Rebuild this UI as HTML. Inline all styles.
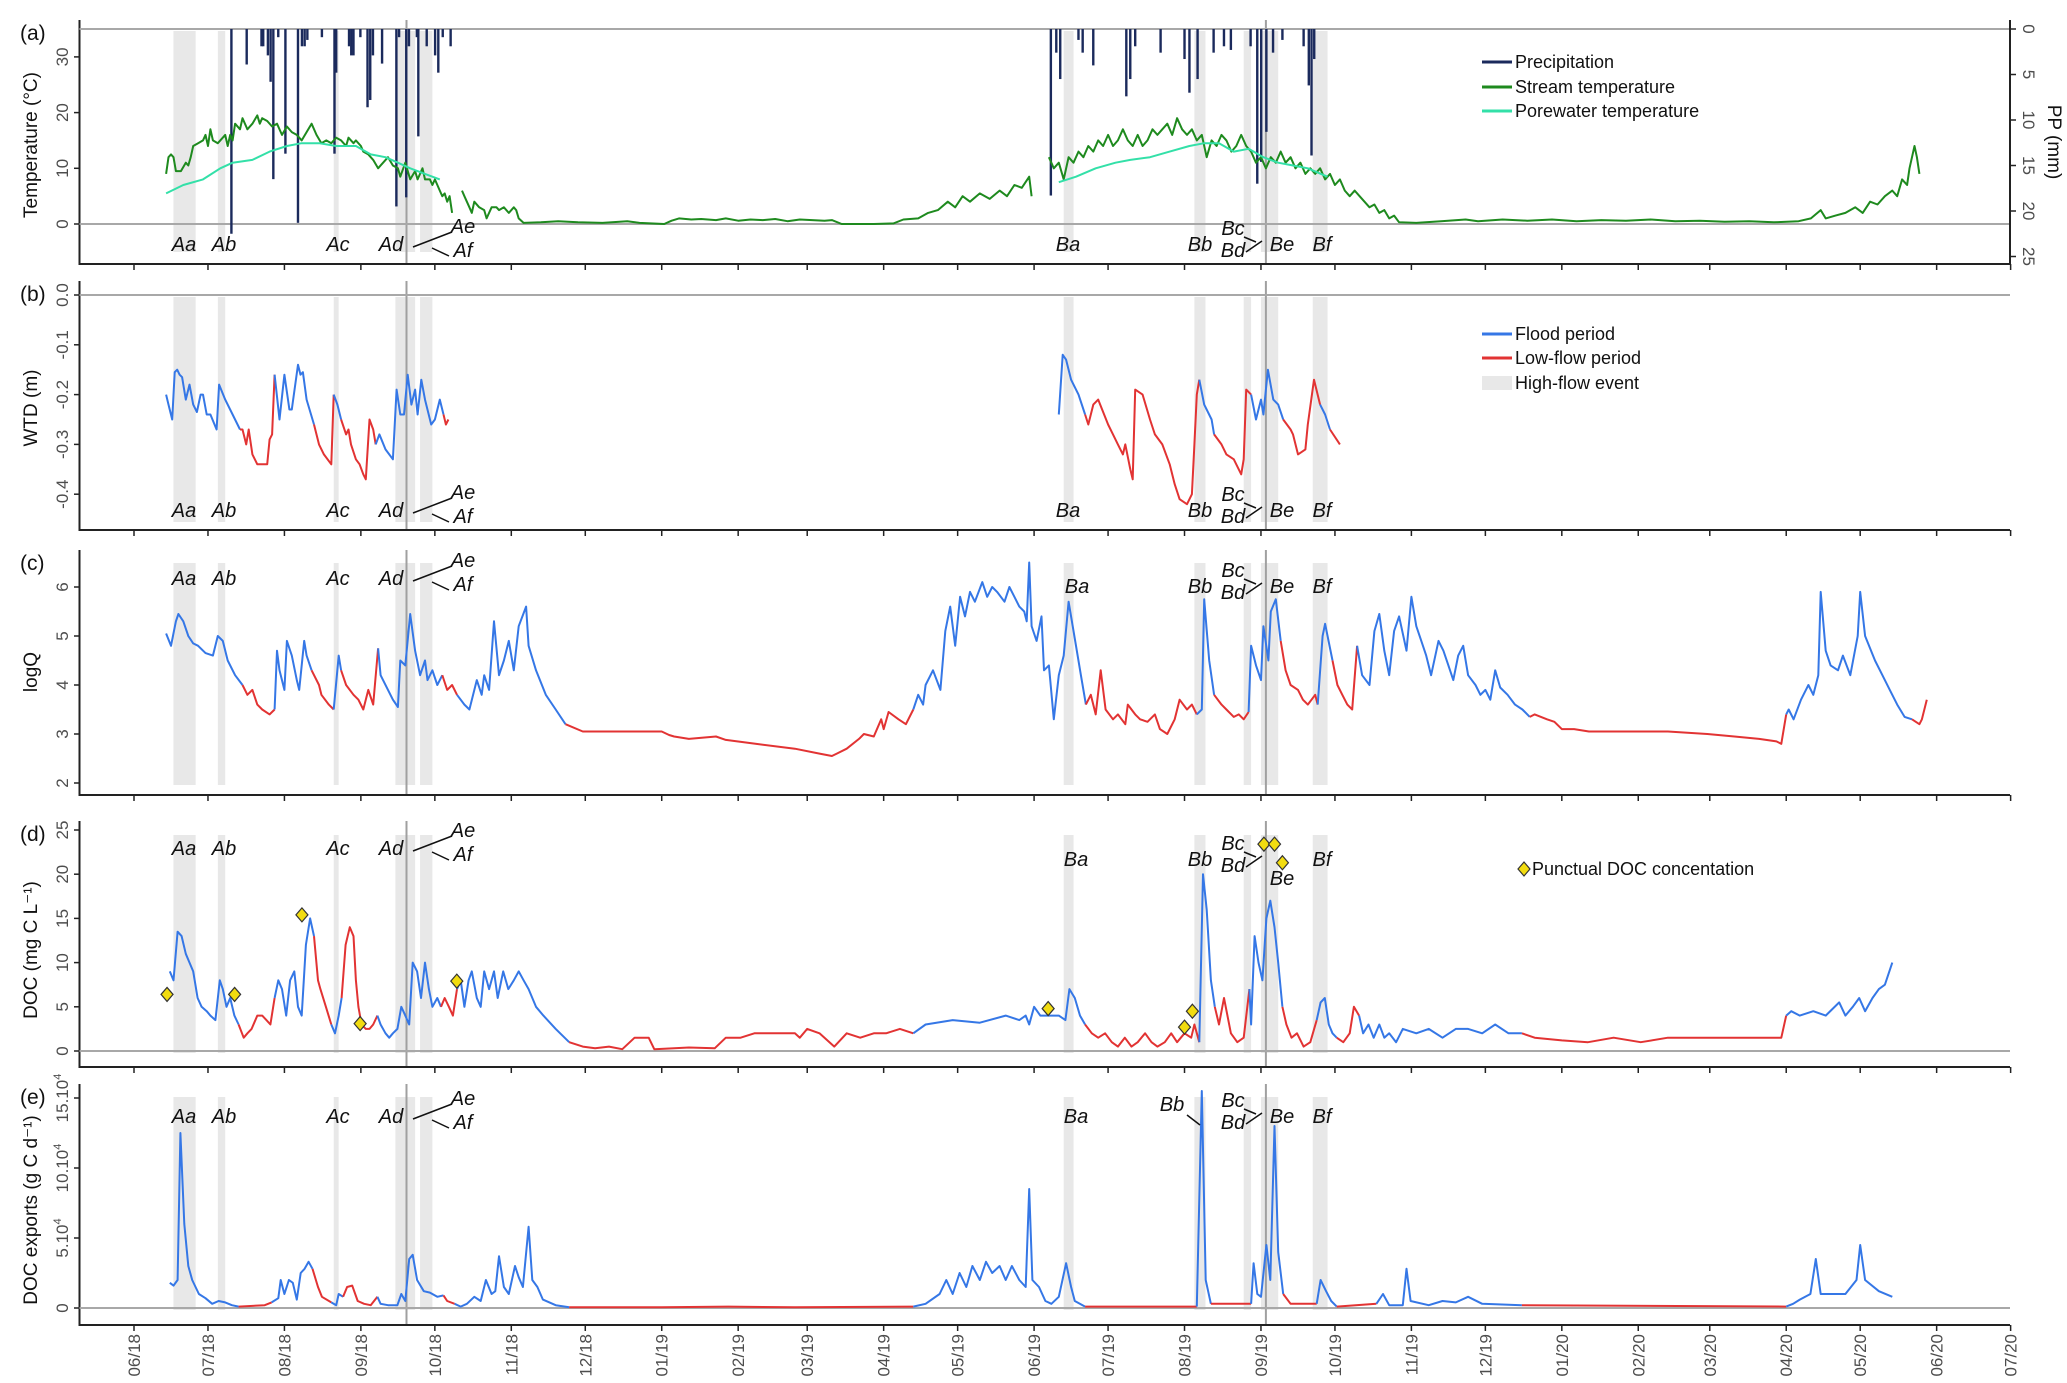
<!DOCTYPE html>
<html><head><meta charset="utf-8"><style>
html,body{margin:0;padding:0;background:#fff}
svg{display:block}
text{font-family:"Liberation Sans",sans-serif}
.ev{font-style:italic;font-size:20px;fill:#111}
.tk{font-size:17px;fill:#4d4d4d}
.tt{font-size:19px;fill:#111}
.pl{font-size:21px;fill:#111}
.lg{font-size:18px;fill:#111}
</style></head><body>
<svg id="chart" width="2067" height="1383" viewBox="0 0 2067 1383" xmlns="http://www.w3.org/2000/svg"></svg>
<script>
const monthLabels=['06/18','07/18','08/18','09/18','10/18','11/18','12/18','01/19','02/19','03/19','04/19','05/19','06/19','07/19','08/19','09/19','10/19','11/19','12/19','01/20','02/20','03/20','04/20','05/20','06/20','07/20'];
const eventBandsA=[[16,25],[34,37],[81,83],[106,114],[116,121]];
const eventBandsB=[[377,381],[430,434.5],[450,453],[457,464],[478,484]];
const markerDays=[110.5,459];
const lowFlow=[[43,57],[73,80.5],[84.5,98],[125,131],[176,316],[386,431.5],[438,452],[466,480],[487,496],[565,670],[721,728]];
const streamTemp=[[13,9],[14,12],[15,12.5],[16,12],[17,9.5],[19,9.5],[21,11],[22,10.5],[23,12],[24,14],[26,14.5],[28,15],[29,16],[30,14],[31,17],[32,15],[34,14.5],[35,15],[37,16],[38,14],[39,16],[40,15],[41,18],[43,17],[44,19],[46,17],[48,18],[50,19.5],[51,18],[52,19],[54,18.5],[56,17.5],[58,18],[60,16],[62,17.5],[64,16.5],[66,16],[68,15],[70,16.5],[72,18],[74,16],[76,14.5],[78,15],[80,14.5],[82,15.5],[84,15],[86,14],[87,15.5],[89,14.5],[90,15],[92,14],[93,13],[95,12.5],[97,11.5],[99,10],[101,11],[103,12],[105,10.5],[107,10],[108,8.5],[110,11],[112,8],[114,9.5],[115,8],[117,10],[118,8],[120,8],[121,7],[122,8],[124,6],[125,5],[126,5.5],[127,4],[128,5],[129,2],[130,null],[133,6],[134,5],[136,3],[137,2],[138,4],[140,3],[142,2.5],[143,1],[145,3],[147,3],[148,2.5],[150,3],[152,2],[154,3],[155,2.5],[156,1],[158,0.2],[165,0.3],[172,0.5],[180,0.3],[190,0.2],[200,0.5],[205,0.2],[215,0],[218,0.6],[221,1],[226,0.8],[230,0.9],[236,0.7],[240,1],[245,0.6],[250,0.8],[255,0.7],[260,0.9],[265,0.5],[270,0.8],[275,0.7],[280,0.6],[283,0.7],[287,0],[300,0],[308,0.1],[312,0.8],[318,1],[322,2],[326,2.5],[330,4],[333,3],[336,5],[339,4],[343,5.5],[347,4.5],[351,6],[354,5],[357,7],[360,6.5],[363,8.5],[364,5],[365,null],[371,12],[373,10],[375,11],[377,8],[379,12],[381,11],[383,13],[385,12],[387,14],[389,13],[391,15],[393,14],[395,16],[397,14],[399,15],[401,17],[403,15],[405,14],[407,16],[409,14],[411,15],[413,17],[415,16],[417,17],[419,18],[421,16],[423,19],[425,17],[427,16],[429,17],[431,15],[433,16],[435,12],[437,15],[439,14],[441,16],[443,15],[445,13],[447,14],[449,16],[451,14],[453,13],[455,11],[457,12],[459,10],[461,12],[463,11],[465,13],[467,11],[469,12],[471,10],[473,11],[475,9],[477,10],[479,9],[481,10],[483,8],[485,9],[487,7],[489,8],[491,6],[493,5],[495,6],[497,5],[499,4],[501,3],[503,3.5],[505,2],[507,2.5],[509,1],[511,1.5],[513,0.3],[520,0.2],[530,0.5],[540,0.8],[545,0.5],[555,0.8],[565,0.6],[575,0.8],[585,0.5],[595,0.7],[605,0.6],[615,0.8],[625,0.5],[635,0.6],[645,0.4],[655,0.5],[665,0.3],[675,0.5],[680,1],[684,2.5],[686,1],[690,1.5],[694,2],[698,3],[701,2],[704,4],[707,3.5],[710,5],[713,6],[715,5],[717,8],[719,7],[720,10],[721,12],[722,14],[723,12],[724,9]];
const poreTemp=[[13,5.5],[20,7],[28,8],[35,10],[40,11],[48,11.5],[55,13],[62,14],[68,14.5],[75,14.5],[82,14],[90,14],[96,12.5],[102,12],[107,11],[112,10],[118,9],[124,8],[125,null],[375,7.5],[382,8.5],[390,10],[398,11],[404,11.5],[412,12],[420,13],[428,14],[434,14.5],[440,14.5],[446,13],[452,13.5],[458,12],[464,11],[470,10.5],[476,10],[484,8.5]];
const precip=[[39.5,22.5],[45.7,3.9],[51.7,1.9],[52.4,1.9],[54.3,2.9],[55.4,5.8],[56.5,16.5],[58.5,0.9],[61.4,13.7],[66.5,21.3],[68.1,1.9],[69.2,1.9],[70.3,1.2],[76.2,0.9],[81.3,13.7],[82,4.8],[87.2,1.9],[88.1,2.9],[89,2.9],[91.8,0.9],[94.7,8.6],[95.8,7.8],[96.9,2.9],[100.6,3.8],[106.4,19.5],[107.5,0.9],[110.4,18.5],[111.5,1.9],[114.7,0.9],[115.3,11.8],[118.7,1.9],[122.1,2.9],[123.4,4.8],[125.2,0.9],[128.4,1.9],[371.8,18.3],[374,2.6],[375.6,5.5],[383,1.2],[384.7,2.6],[389,4],[402.4,7.4],[404,5.5],[406,1.9],[416.3,2.6],[426,3.3],[428,7],[431.3,5.5],[437.8,2.6],[442,1.9],[444.8,2.3],[452.8,1.9],[455.5,17],[457.1,14.6],[459.2,11.3],[461.9,2.6],[465.7,1.2],[474.3,1.9],[476.4,6.2],[477.5,13.9],[478.6,3.3]];
const wtd=[[13,-0.20],[14,-0.22],[15.5,-0.25],[16.5,-0.155],[17.5,-0.15],[18.5,-0.16],[19.5,-0.165],[21,-0.21],[22.5,-0.18],[24,-0.22],[25.5,-0.235],[27,-0.20],[28,-0.20],[29.5,-0.24],[31,-0.24],[33.5,-0.27],[34.5,-0.18],[37,-0.21],[40,-0.24],[43,-0.27],[44,-0.27],[45.5,-0.30],[46.5,-0.27],[48,-0.32],[50,-0.34],[54,-0.34],[55,-0.29],[56,-0.28],[57,-0.16],[59,-0.25],[61,-0.16],[63,-0.23],[64,-0.23],[66.5,-0.14],[67.5,-0.16],[68.5,-0.155],[70,-0.21],[73,-0.26],[75,-0.30],[77,-0.32],[80,-0.34],[81,-0.20],[82.5,-0.22],[84,-0.25],[86,-0.28],[87,-0.27],[88,-0.30],[90,-0.33],[91.5,-0.34],[93,-0.36],[94,-0.37],[95.5,-0.25],[97,-0.27],[98,-0.30],[99.5,-0.28],[102,-0.31],[105,-0.33],[106.5,-0.19],[108,-0.24],[109.5,-0.24],[111,-0.16],[112.5,-0.22],[114,-0.19],[115,-0.24],[116.5,-0.17],[118,-0.21],[120.5,-0.26],[122,-0.25],[124,-0.21],[125.5,-0.24],[126.5,-0.26],[127.5,-0.25],[128,null],[375,-0.24],[376.6,-0.12],[378,-0.13],[380,-0.17],[383,-0.20],[385.7,-0.24],[387,-0.26],[389,-0.22],[391,-0.21],[395,-0.26],[397,-0.28],[399,-0.30],[401,-0.32],[402,-0.30],[404,-0.35],[405,-0.37],[406,-0.19],[409,-0.20],[412,-0.25],[414,-0.28],[417,-0.30],[420,-0.34],[422,-0.38],[424,-0.41],[427,-0.42],[429,-0.40],[430,-0.30],[431,-0.20],[432,-0.17],[434,-0.22],[437,-0.25],[438,-0.28],[441,-0.30],[443,-0.32],[446,-0.33],[449,-0.36],[450,-0.33],[451,-0.19],[453,-0.20],[455,-0.25],[457,-0.21],[458,-0.24],[459.8,-0.15],[462,-0.21],[464,-0.22],[466,-0.25],[469,-0.27],[470,-0.28],[472,-0.32],[475,-0.31],[476,-0.26],[478.5,-0.17],[481,-0.22],[483,-0.24],[485,-0.27],[489,-0.30]];
const logQ=[[13,5.05],[15,4.8],[17,5.3],[18,5.45],[20,5.3],[22,5.0],[24,4.85],[26,4.8],[29,4.65],[32,4.6],[34,5.0],[36,4.9],[38,4.5],[41,4.2],[44,4.0],[46,3.8],[48,3.9],[50,3.6],[52,3.5],[55,3.4],[57,3.5],[58,4.7],[59,4.3],[61,3.9],[62,4.9],[64,4.6],[66,4.1],[67,3.9],[69,4.9],[70,4.6],[72,4.3],[75,4.0],[76,3.8],[79,3.6],[81,3.5],[83,4.6],[84,4.3],[86,4.0],[89,3.8],[91,3.7],[93,3.5],[95,3.9],[97,3.6],[99,4.75],[100,4.2],[103,3.9],[105,3.7],[107,3.55],[108,4.5],[110,4.4],[112,5.45],[114,4.7],[116,4.2],[118,4.5],[119,4.1],[121,4.3],[123,4.0],[125,4.2],[127,3.9],[129,4.0],[131,3.8],[134,3.6],[136,3.5],[139,4.1],[141,3.8],[142,4.2],[144,3.9],[146,5.3],[148,4.2],[150,4.5],[152,4.9],[154,4.3],[156,5.2],[159,5.6],[160,4.8],[163,4.3],[167,3.8],[171,3.5],[175,3.2],[182,3.05],[187,3.05],[214,3.05],[217,2.98],[219,2.95],[225,2.9],[236,2.95],[240,2.88],[252,2.8],[268,2.7],[278,2.6],[283,2.55],[285,2.6],[289,2.7],[294,2.9],[296,3.0],[300,2.95],[303,3.3],[304,3.1],[306,3.45],[310,3.3],[313,3.2],[316,3.5],[318,3.8],[320,3.6],[321,4.0],[324,4.3],[327,3.9],[329,5.1],[331,5.6],[333,4.8],[335,5.8],[337,5.4],[339,5.9],[341,5.7],[344,6.1],[346,5.8],[348,6.0],[350,5.9],[353,5.7],[355,6.0],[357,5.8],[359,5.6],[361,5.5],[362,5.3],[363,6.5],[364,5.2],[366,4.9],[368,5.4],[369,4.3],[371,4.4],[373,3.3],[375,4.2],[377,4.6],[379,5.7],[382,4.8],[384,4.2],[386,3.6],[388,3.8],[390,3.4],[392,4.3],[394,3.5],[397,3.3],[399,3.4],[402,3.2],[403,3.6],[406,3.4],[408,3.3],[411,3.25],[414,3.4],[416,3.1],[419,3.0],[422,3.3],[424,3.7],[427,3.5],[429,3.6],[431,3.4],[433,3.5],[434,5.75],[436,4.5],[438,3.8],[441,3.6],[443,3.5],[446,3.35],[448,3.4],[450,3.3],[452,3.45],[453,4.8],[455,4.4],[457,4.1],[458,5.2],[460,4.5],[461,5.5],[463,5.75],[465,4.9],[467,4.3],[469,4.0],[472,3.9],[474,3.7],[476,3.6],[479,3.8],[480,3.6],[482,5.0],[483,5.25],[486,4.5],[488,4.0],[490,3.8],[492,3.6],[494,3.5],[496,4.8],[498,4.2],[501,4.0],[503,5.1],[505,5.45],[507,4.7],[509,4.2],[511,5.1],[513,5.4],[516,4.7],[518,5.8],[520,5.2],[522,4.9],[524,4.6],[526,4.2],[529,4.9],[531,4.7],[533,4.4],[535,4.1],[537,4.6],[539,4.8],[541,4.2],[544,4.0],[546,3.8],[548,3.9],[550,3.7],[552,4.3],[554,3.95],[557,3.8],[560,3.6],[563,3.5],[566,3.35],[568,3.4],[573,3.3],[576,3.25],[579,3.1],[584,3.1],[590,3.05],[606,3.05],[622,3.05],[638,3.0],[649,2.95],[659,2.9],[666,2.85],[668,2.8],[670,3.4],[671,3.5],[673,3.3],[676,3.7],[678,3.9],[679,4.0],[681,3.8],[683,4.2],[684,5.9],[686,4.7],[688,4.4],[691,4.3],[693,4.6],[696,4.2],[699,5.0],[700,5.9],[702,5.0],[706,4.5],[709,4.2],[712,3.9],[715,3.6],[718,3.35],[721,3.3],[724,3.2],[725,3.3],[727,3.7]];
const doc=[[14.5,9],[16,8],[17.7,13.5],[19.3,13],[21,11],[22.5,10],[24,9],[25.8,6],[27.4,5],[29.5,4.5],[31,4],[33,3.5],[34.8,8],[36,7],[37.5,5],[39,6],[40.7,4],[42.4,3],[44.5,1.5],[46,2],[47.7,2.5],[50,4],[52,4],[53.7,3.5],[55.3,3],[57,6],[58.5,8],[60,7],[61.7,4],[63.3,8],[65,9],[66.5,5],[68,4],[69.7,12],[71.4,15],[73,13],[74.6,8],[75.6,7],[77.8,5],[80,3],[81.5,2],[83,4],[84.2,6],[85.8,12],[87.5,14],[89,13],[90,8],[91,5],[92.3,3],[94,2.5],[95.5,2.5],[97,3],[98.7,4],[100,3],[102,2],[103.5,1.5],[105,2],[106.8,2.5],[108.4,5],[110,4],[111.6,3],[113,10],[114.8,9],[116.4,6],[118,10],[119.6,7],[121,5],[123,6],[124.5,5],[126,6],[127.7,5],[129.3,4],[131,7],[132.5,8],[134,5],[135.7,8],[137,9],[139,6],[140.6,5],[142,9],[144,7],[146,9],[147.5,6],[149.7,9],[151.8,7],[154,8],[156,9],[158,8],[160,7],[163,5],[166,4],[171,2.5],[176.5,1],[182,0.5],[187,0.3],[192.6,0.5],[198,0.2],[203,1.5],[208.7,1.5],[211,0.2],[219,0.3],[225,0.4],[235.5,0.3],[240,1.5],[246,1.5],[251.6,2],[257,2],[268,2],[270,1.5],[273,2.5],[278,2],[284,0.5],[289,2],[294.5,1.5],[300,2],[305,2],[310.6,2.5],[316,2],[321,3],[332,3.5],[343,3.2],[353.5,4],[359,3.5],[361.6,4],[363,3],[365,5],[367.5,4],[371,4],[375,4],[377.7,3.5],[379.3,7],[381.5,6],[383.6,4],[385.7,3],[388.4,2],[391,1.5],[393.8,2],[396.5,1],[399,0.5],[401.8,1.5],[404.5,0.5],[407,1],[410,2],[412.6,1],[415,0.5],[418,1],[420.6,2],[423,1],[426,2],[428.7,1.5],[430,3],[432,1],[433.5,20],[435,16],[436.7,8],[438.3,5],[440,3],[442,6],[444.8,2],[447.4,1],[450,1.5],[452.3,7],[453,3],[454.4,13],[456,10],[457.6,8],[459.2,15],[460.8,17],[462.5,14],[464,10],[465.7,5],[467.3,3],[469.4,1.5],[471.6,2],[474.3,0.5],[477,1],[479.6,3.5],[481.2,5.5],[482.9,6],[484.5,3],[486,2],[487.7,1.5],[490.4,1],[493,2],[494.7,5],[496.8,4],[498.4,2],[500.6,3],[502.7,1.5],[505,3],[507,1.5],[509,2],[511.8,1],[514.5,2.5],[520,2],[525,2.5],[530.6,1.5],[536,2.5],[541,2.5],[546.7,2],[552,3],[557.4,2],[562.8,2],[568,1.5],[579,1.2],[589.6,1.0],[600,1.5],[611,1],[622,1.5],[632.5,1.5],[643,1.5],[654,1.5],[668,1.5],[670,4],[672,4.5],[675.5,4],[681,4.5],[686,4],[691.5,5.5],[694,4],[697,5],[699.6,6],[702,4.5],[705,6],[707.6,7],[710,7.5],[713,10]];
const docPoints=[[13.4,6.4],[40.8,6.4],[68.1,15.4],[91.7,3.1],[130.9,7.9],[370.7,4.8],[426,2.7],[429.2,4.5],[458.2,23.4],[462.5,23.4],[465.7,21.3]];
const exports1e4=[[14.5,1.8],[16,1.6],[17.7,2],[18.8,12.5],[20.4,6],[22,3],[23.6,2],[26.3,1],[29,0.7],[31.7,0.3],[34.3,0.5],[37,0.4],[39.7,0.2],[42.4,0.1],[53,0.2],[55.8,0.4],[58.5,0.7],[59.5,2],[61,1],[62.8,2],[64.4,1.8],[66,0.6],[67.6,2.5],[69.2,2.8],[70.8,3.3],[72.4,2.8],[74.6,1.5],[76.2,0.8],[80,0.4],[82,0.2],[83,1],[84.8,0.8],[86.4,1.5],[88.5,1.6],[90.7,0.5],[93.3,0.3],[96,0.2],[98.7,0.8],[100,0.3],[103,0.2],[106.8,0.2],[108.4,1],[110,0.5],[111.6,3.5],[113,3.8],[114.8,2],[117.5,1.2],[120,1.1],[123,0.8],[125.5,0.9],[127,0.5],[130,0.3],[132.5,0.1],[135,0.3],[138,0.8],[140.6,0.5],[142.7,2],[145,1],[146.5,1.2],[148,3.7],[150,1.5],[152,1],[154.5,3],[156,2.2],[157.7,1.5],[160,5.8],[161.5,2],[163.6,1.5],[165.8,0.6],[171,0.2],[176.5,0.05],[214,0.05],[241,0.1],[268,0.05],[316,0.1],[321,0.3],[326.7,1],[329.4,2],[332,1],[334.8,2.5],[337.5,1.5],[340,3],[343,2],[345.5,3.3],[348,2.5],[351,3],[353.5,2],[356,3],[359,2],[361.6,1.5],[363,8.5],[364.3,2],[367,1.5],[369.6,0.5],[372,0.3],[375,0.8],[378,3.2],[380,1.5],[381.5,0.5],[385.7,0.1],[431,0.1],[433,15.5],[434.6,2],[436.7,0.3],[453,0.3],[454,3.2],[455.5,1],[457,0.8],[459.2,4.5],[460.8,2],[462.5,13],[464,4],[466,1],[469,0.3],[479.6,0.3],[481.2,2],[483.4,1.2],[485.5,0.5],[487.7,0.1],[503.8,0.3],[506.5,1],[509,0.2],[514.5,0.2],[516,2.8],[517.7,0.5],[525,0.2],[530.6,0.5],[536,0.4],[541,0.8],[546.7,0.3],[562.8,0.2],[670,0.1],[672.8,0.3],[675.5,0.6],[679.8,1],[682,3.5],[684,1],[688.8,1],[694,1],[698.5,2],[700,4.5],[702,2],[707.6,1.2],[713,0.8]];
const tempTicks=[0,10,20,30];
const ppTicks=[0,5,10,15,20,25];
const wtdTicks=[0,-0.1,-0.2,-0.3,-0.4];
const qTicks=[2,3,4,5,6];
const docTicks=[0,5,10,15,20,25];
const expTicks=[0,5,10,15];

const NS='http://www.w3.org/2000/svg';
const svg=document.getElementById('chart');
function el(tag,attrs,parent,txt){const e=document.createElementNS(NS,tag);for(const k in attrs)e.setAttribute(k,attrs[k]);if(txt!==undefined)e.textContent=txt;(parent||svg).appendChild(e);return e;}
const X=d=>134+d*2.466;
const BLUE='#3577e6',RED='#e23333';
const isLow=d=>lowFlow.some(p=>d>=p[0]&&d<=p[1]);

const panels=[
 {key:'a',top:20,bot:264,bandTop:31,bandBot:252,title:'Temperature (°C)',tcy:145},
 {key:'b',top:281,bot:530,bandTop:297,bandBot:522,title:'WTD (m)',tcy:408},
 {key:'c',top:550,bot:795,bandTop:563,bandBot:785,title:'logQ',tcy:672},
 {key:'d',top:821,bot:1067,bandTop:835,bandBot:1053,title:'DOC (mg C L\u207B\u00B9)',tcy:950},
 {key:'e',top:1084,bot:1325,bandTop:1097,bandBot:1310,title:'DOC exports (g C d\u207B\u00B9)',tcy:1210}
];
const monthDays=monthLabels.map((m,i)=>{const y=2018+Math.floor((5+i)/12);const mo=(5+i)%12;return (Date.UTC(y,mo,1)-Date.UTC(2018,5,1))/86400000;});

function drawLine(g,data,yf,colorMode,name){
  let seg=[],col=null;
  function flush(){if(seg.length>1){const p=el('polyline',{points:seg.map(q=>q.join(',')).join(' '),fill:'none',stroke:col,'stroke-width':2,'stroke-linejoin':'round'},g);}seg=[];}
  for(let i=0;i<data.length-1;i++){
    const a=data[i],b=data[i+1];
    if(a[1]===null||b[1]===null){flush();col=null;continue;}
    const c=typeof colorMode==='string'?colorMode:(isLow((a[0]+b[0])/2)?RED:BLUE);
    const pa=[X(a[0]).toFixed(1),yf(a[1]).toFixed(1)],pb=[X(b[0]).toFixed(1),yf(b[1]).toFixed(1)];
    if(c!==col){flush();col=c;seg=[pa];}
    if(seg.length===0)seg=[pa];
    seg.push(pb);
  }
  flush();
}

panels.forEach(P=>{
  const g=el('g',{});
  
  
  eventBandsA.concat(eventBandsB).forEach(b=>{const r=el('rect',{x:X(b[0]),y:P.bandTop,width:X(b[1])-X(b[0]),height:P.bandBot-P.bandTop,fill:'#e8e8e8'},g);});
  markerDays.forEach(d=>{const l=el('line',{x1:X(d),x2:X(d),y1:P.top,y2:P.bot,stroke:'#a0a0a0','stroke-width':2},g);});
  const ax=el('path',{d:`M79.5,${P.top}V${P.bot}H2010`,fill:'none',stroke:'#222','stroke-width':2},g);
  
  monthDays.forEach(d=>el('line',{x1:X(d),x2:X(d),y1:P.bot,y2:P.bot+6,stroke:'#222','stroke-width':1.5},g));
  const lab=el('text',{x:20,y:P.top+20,class:'pl'},g,'('+P.key+')');
  
  const t=el('text',{x:0,y:0,class:'tt','text-anchor':'middle',transform:`translate(37,${P.tcy}) rotate(-90)`},g,P.title);
  
  P.g=g;
});
function yTicks(P,ticks,yf,fmt){ticks.forEach(v=>{const y=yf(v);el('line',{x1:74,x2:79.5,y1:y,y2:y,stroke:'#222','stroke-width':1.5},P.g);const t=el('text',{class:'tk','text-anchor':'middle',transform:`translate(68,${y}) rotate(-90)`},P.g,fmt(v));});}
function hline(P,y){el('line',{x1:79.5,x2:2010,y1:y,y2:y,stroke:'#a8a8a8','stroke-width':2},P.g);}

const Pa=panels[0];const Ta=v=>224-v*5.57;const PPy=mm=>29+mm*9.1;
hline(Pa,Ta(35));hline(Pa,Ta(0));
yTicks(Pa,tempTicks,Ta,v=>String(v));
el('line',{x1:2010,x2:2010,y1:20,y2:264,stroke:'#222','stroke-width':2},Pa.g);
ppTicks.forEach(v=>{const y=PPy(v);el('line',{x1:2010,x2:2016,y1:y,y2:y,stroke:'#222','stroke-width':1.5},Pa.g);const t=el('text',{class:'tk','text-anchor':'middle',transform:`translate(2023,${y}) rotate(90)`},Pa.g,String(v));});
const ppt=el('text',{class:'tt','text-anchor':'middle',transform:'translate(2048,142) rotate(90)'},Pa.g,'PP (mm)');

precip.forEach(p=>{const r=el('rect',{x:X(p[0])-1.2,y:PPy(0),width:2.4,height:PPy(p[1])-PPy(0),fill:'#1b2a5c'},Pa.g);});
drawLine(Pa.g,streamTemp,Ta,'#1e8a1e','stream-temperature-line');
drawLine(Pa.g,poreTemp,Ta,'#33e0a8','porewater-temperature-line');
const Pb=panels[1];const Wy=v=>295-v*498;
hline(Pb,Wy(0));yTicks(Pb,wtdTicks,Wy,v=>v.toFixed(1));
drawLine(Pb.g,wtd,Wy,null,'wtd-line');
const Pc=panels[2];const Qy=v=>783-(v-2)*49;
yTicks(Pc,qTicks,Qy,v=>String(v));
drawLine(Pc.g,logQ,Qy,null,'logq-line');
const Pd=panels[3];const Dy=v=>1051-v*8.84;
hline(Pd,Dy(0));yTicks(Pd,docTicks,Dy,v=>String(v));
drawLine(Pd.g,doc,Dy,null,'doc-line');
docPoints.forEach(p=>{const x=X(p[0]),y=Dy(p[1]);const d=el('path',{d:`M${x},${y-7}L${x+6},${y}L${x},${y+7}L${x-6},${y}Z`,fill:'#f2dc10',stroke:'#333','stroke-width':1.2},Pd.g);});
const Pe=panels[4];const Ey=v=>1308-v*14.0;
hline(Pe,Ey(0));
expTicks.forEach(v=>{const y=Ey(v);el('line',{x1:74,x2:79.5,y1:y,y2:y,stroke:'#222','stroke-width':1.5},Pe.g);const t=el('text',{class:'tk','text-anchor':'middle',transform:`translate(68,${y}) rotate(-90)`},Pe.g);if(v===0){t.textContent='0';}else{t.textContent=v+'.10';el('tspan',{dy:-7,'font-size':11},t,'4');}});
drawLine(Pe.g,exports1e4,Ey,null,'doc-exports-line');

monthLabels.forEach((m,i)=>{const t=el('text',{class:'tk','text-anchor':'end',transform:`translate(${X(monthDays[i])+6},1334) rotate(-90)`},svg,m);});

function evLabels(row,opts){
  const g=el('g',{});
  const put=(x,y,s)=>{const t=el('text',{x,y,class:'ev','text-anchor':'middle'},g,s);};
  const ln=(x1,y1,x2,y2)=>el('line',{x1,y1,x2,y2,stroke:'#111','stroke-width':1.5},g);
  put(184,row,'Aa');put(224,row,'Ab');put(338,row,'Ac');put(391,row,'Ad');
  put(463,row-18,'Ae');put(463,row+6,'Af');ln(413,row-4,452,row-19);ln(432,row-3,449,row+5);
  put(opts.ba||1068,row+(opts.bdy||0),'Ba');
  if(opts.bbLine){put(1172,row-12,'Bb');ln(1187,row-8,1200,row+2);}else put(1200,row+(opts.bdy||0),'Bb');
  put(1233,row-16+(opts.bdy||0),'Bc');put(1233,row+6+(opts.bdy||0),'Bd');
  ln(1244,row-14+(opts.bdy||0),1256,row-9+(opts.bdy||0));ln(1246,row+1+(opts.bdy||0),1262,row-10+(opts.bdy||0));
  put(1282,row+(opts.bey||opts.bdy||0),'Be');put(1322,row+(opts.bdy||0),'Bf');
}
evLabels(251,{});
evLabels(517,{});
evLabels(585,{bdy:8,ba:1077});
evLabels(855,{bdy:11,bey:30,ba:1076});
evLabels(1123,{bbLine:true,ba:1076});

function legLine(x,y,c,txt,w){const g=el('g',{});if(w==='rect')el('rect',{x:x,y:y-7,width:30,height:14,fill:'#e8e8e8'},g);else el('line',{x1:x,x2:x+30,y1:y,y2:y,stroke:c,'stroke-width':3},g);el('text',{x:x+33,y:y+6,class:'lg'},g,txt);}
legLine(1482,62,'#1b2a5c','Precipitation');
legLine(1482,87,'#1e8a1e','Stream temperature');
legLine(1482,111,'#33e0a8','Porewater temperature');
legLine(1482,334,BLUE,'Flood period');
legLine(1482,358,RED,'Low-flow period');
legLine(1482,383,null,'High-flow event','rect');
(function(){const g=el('g',{});el('path',{d:'M1524,862L1530,869L1524,876L1518,869Z',fill:'#f2dc10',stroke:'#333','stroke-width':1.2},g);el('text',{x:1532,y:875,class:'lg'},g,'Punctual DOC concentation');})();
</script>
</body></html>
